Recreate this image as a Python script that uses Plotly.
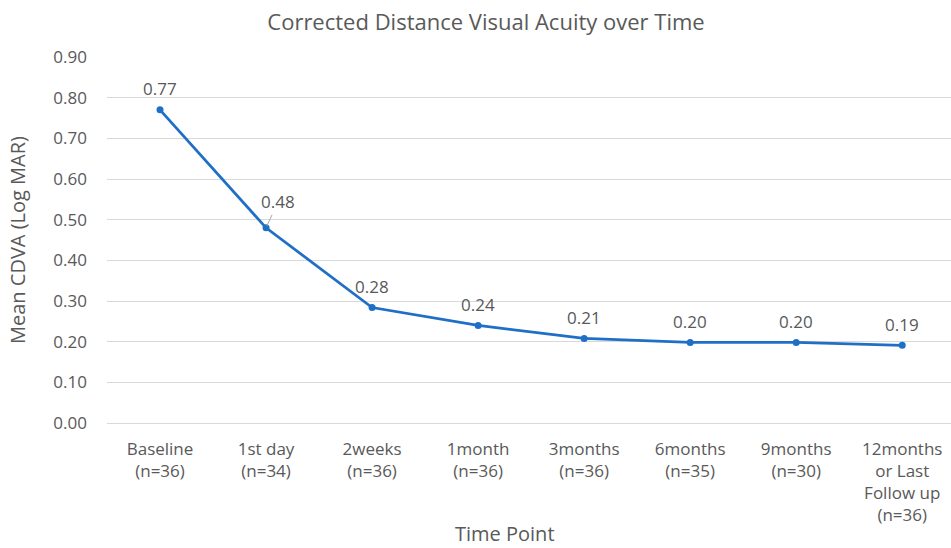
import plotly.graph_objects as go

categories = ["Baseline<br>(n=36)", "1st day<br>(n=34)", "2weeks<br>(n=36)", "1month<br>(n=36)",
              "3months<br>(n=36)", "6months<br>(n=35)", "9months<br>(n=30)",
              "12months<br>or Last<br>Follow up<br>(n=36)"]
values = [0.77, 0.48, 0.284, 0.24, 0.208, 0.198, 0.198, 0.191]
labels = ["0.77", "0.48", "0.28", "0.24", "0.21", "0.20", "0.20", "0.19"]
y_ticks = [0.0, 0.1, 0.2, 0.3, 0.4, 0.5, 0.6, 0.7, 0.8, 0.9]

FONT = "Open Sans"
GREY = "#595959"
BLUE = "#1f6fc6"

W, H = 951, 548
L, T, B = 107, 57, 125
plot_h = H - T - B

fig = go.Figure()
fig.add_trace(go.Scatter(
    x=categories, y=values, mode="lines+markers",
    line=dict(color=BLUE, width=2.75),
    marker=dict(color=BLUE, size=7),
    hoverinfo="skip", showlegend=False,
))

for i, (c, v, t) in enumerate(zip(categories, values, labels)):
    if i == 1:
        fig.add_annotation(x=c, y=v, text=t, showarrow=True, arrowhead=0,
                           arrowcolor="#a6a6a6", arrowwidth=1, ax=12, ay=-26,
                           standoff=2,
                           font=dict(family=FONT, size=17, color=GREY))
    else:
        fig.add_annotation(x=c, y=v, text=t, showarrow=False, yshift=21,
                           font=dict(family=FONT, size=17, color=GREY))

# x-axis title (centred slightly left of the plot centre, as in the original)
fig.add_annotation(text="Time Point", xref="paper", yref="paper",
                   x=(505 - L) / (W - L), y=-(533 - (H - B)) / plot_h,
                   xanchor="center", yanchor="middle", showarrow=False,
                   font=dict(family=FONT, size=20, color=GREY))

fig.update_layout(
    width=W, height=H,
    margin=dict(l=L, r=0, t=T, b=B),
    paper_bgcolor="white", plot_bgcolor="white",
    title=dict(text="Corrected Distance Visual Acuity over Time", x=486 / W, xanchor="center",
               y=1 - 22 / H, yanchor="middle",
               font=dict(family=FONT, size=22, color=GREY)),
    font=dict(family=FONT, color=GREY, size=17),
    xaxis=dict(range=[-0.5, len(categories) - 0.54],
               showgrid=False, showline=False, zeroline=False, ticks="",
               ticklabelstandoff=14,
               tickfont=dict(family=FONT, size=17, color=GREY)),
    yaxis=dict(range=[0, 0.9], tickvals=y_ticks, tickformat=".2f",
               showgrid=True, gridcolor="#d9d9d9", gridwidth=1,
               zeroline=True, zerolinecolor="#d9d9d9", zerolinewidth=1,
               showline=False, ticks="", ticklabelstandoff=19,
               tickfont=dict(family=FONT, size=17, color=GREY),
               title=dict(text="Mean CDVA (Log MAR)", font=dict(family=FONT, size=20, color=GREY),
                          standoff=22)),
)

fig.write_html(
    "out.html",
    config={"displayModeBar": False},
    post_script="document.body.style.margin='0';document.body.style.overflow='hidden';",
)
